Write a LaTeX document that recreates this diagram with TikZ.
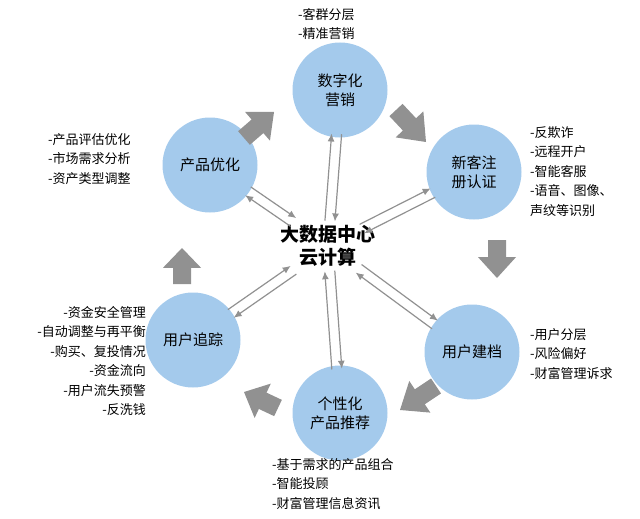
\documentclass[tikz,border=0pt]{standalone}
\usepackage{fontspec}
\setmainfont{Noto Sans CJK SC}
\usetikzlibrary{arrows.meta,calc}
\tikzset{
  stage/.style={circle,fill=circ,minimum size=95pt,inner sep=0pt,align=center,font=\fontsize{15}{19}\selectfont},
  note/.style={align=left,font=\fontsize{13}{19.5}\selectfont,inner sep=0pt},
  link/.style={draw=arrowgray,line width=1.2pt,-{Latex[length=8pt,width=7pt]}}
}
\definecolor{circ}{RGB}{164,202,236}
\definecolor{arrowgray}{RGB}{145,145,145}
\newcommand\blockarrow[2]{%
  \coordinate (bs) at #1; \coordinate (be) at #2;
  \coordinate (bm) at ($(bs)!0.45!(be)$);
  \fill[arrowgray] ($(bs)!9pt!90:(be)$) -- ($(bm)!9pt!90:(be)$) -- ($(bm)!19pt!90:(be)$)
    -- (be) -- ($(bm)!19pt!-90:(be)$) -- ($(bm)!9pt!-90:(be)$) -- ($(bs)!9pt!-90:(be)$) -- cycle;}
\begin{document}
\begin{tikzpicture}[x=1pt,y=-1pt]
\useasboundingbox (0,0) rectangle (640,519);
\node[stage] (mkt) at (340,90) {数字化\\营销};
\node[stage] (reg) at (474,172) {新客注\\册认证};
\node[stage] (pro) at (472,352) {用户建档};
\node[stage] (rec) at (340,413) {个性化\\产品推荐};
\node[stage] (trk) at (193,340) {用户追踪};
\node[stage] (opt) at (210,165) {产品优化};
\node[font=\fontsize{19}{23}\selectfont\bfseries,align=center] (ctr) at (328,246) {大数据中心\\云计算};
% big arrows
\blockarrow{(244,138)}{(274,112)}
\blockarrow{(396,110)}{(426,142)}
\blockarrow{(497,240)}{(497,278)}
\blockarrow{(436,386)}{(400,410)}
\blockarrow{(278,408)}{(244,392)}
\blockarrow{(182,284)}{(182,248)}
% links
\foreach \c/\a/\b in {mkt/44/25, reg/46/38, pro/46/38, rec/44/25, trk/46/42, opt/46/42}{
  \draw[link,shorten <=\a pt,shorten >=\b pt] ($(\c)!5pt!90:(ctr)$) -- ($(ctr)!5pt!-90:(\c)$);
  \draw[link,shorten <=\b pt,shorten >=\a pt] ($(ctr)!5pt!90:(\c)$) -- ($(\c)!5pt!-90:(ctr)$);
}
% notes
\node[note,anchor=north west] (nmkt) at (298,8) {-客群分层\\-精准营销};
\node[note,anchor=north west] (nreg) at (530,126) {-反欺诈\\-远程开户\\-智能客服\\-语音、图像、\\声纹等识别};
\node[note,anchor=north west] (npro) at (530,328) {-用户分层\\-风险偏好\\-财富管理诉求};
\node[note,anchor=north west] (nrec) at (272,458) {-基于需求的产品组合\\-智能投顾\\-财富管理信息资讯};
\node[note,anchor=north east,align=right] (ntrk) at (146,306) {-资金安全管理\\-自动调整与再平衡\\-购买、复投情况\\-资金流向\\-用户流失预警\\-反洗钱};
\node[note,anchor=north west] (nopt) at (48,133) {-产品评估优化\\-市场需求分析\\-资产类型调整};
\end{tikzpicture}
\end{document}
